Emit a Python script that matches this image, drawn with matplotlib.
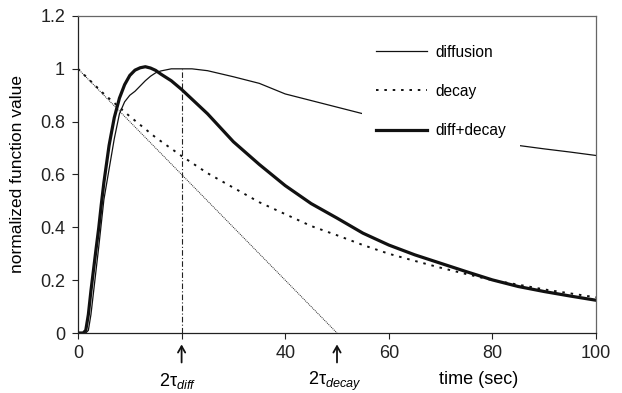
import numpy as np
import matplotlib.pyplot as plt

plt.rcParams['font.family'] = ['Liberation Sans', 'DejaVu Sans']
plt.rcParams['font.size'] = 13
plt.rcParams['mathtext.fontset'] = 'custom'
plt.rcParams['mathtext.rm'] = 'Liberation Sans'
plt.rcParams['mathtext.it'] = 'Liberation Sans:italic'

# diffusion only (thin solid)
t_diff = [0, 1.5, 2, 2.5, 3, 3.5, 4, 4.5, 5, 6, 7, 8, 9, 10, 11, 12, 13, 14, 15, 16,
          17, 18, 20, 22, 25, 30, 35, 40, 45, 50, 55, 60, 70, 80, 85, 90, 95, 100]
diffusion = [0, 0, 0.01, 0.07, 0.155, 0.24, 0.325, 0.415, 0.505, 0.62, 0.735, 0.83,
             0.875, 0.90, 0.915, 0.935, 0.955, 0.972, 0.985, 0.992, 0.996, 1.0, 1.0,
             1.0, 0.993, 0.97, 0.945, 0.905, 0.88, 0.855, 0.83, 0.81, 0.77, 0.73,
             0.71, 0.697, 0.685, 0.672]

# decay only (dotted)
t_decay = [0, 5, 10, 15, 20, 25, 30, 35, 40, 45, 50, 55, 60, 65, 70, 75, 80, 85, 90, 95, 100]
decay = [1.0, 0.905, 0.82, 0.74, 0.67, 0.605, 0.55, 0.495, 0.45, 0.405, 0.37, 0.333,
         0.30, 0.273, 0.247, 0.223, 0.20, 0.183, 0.165, 0.15, 0.135]

# diffusion + decay (thick)
t_mix = [0, 1, 1.5, 2, 2.5, 3, 3.5, 4, 4.5, 5, 6, 7, 8, 9, 10, 11, 12, 13, 14, 15, 16,
         18, 20, 25, 30, 35, 40, 45, 50, 55, 60, 65, 70, 75, 80, 85, 90, 95, 100]
mix = [0, 0, 0.01, 0.07, 0.16, 0.24, 0.32, 0.397, 0.487, 0.57, 0.71, 0.815, 0.889,
       0.94, 0.975, 0.995, 1.004, 1.008, 1.003, 0.994, 0.98, 0.955, 0.922, 0.83,
       0.724, 0.638, 0.558, 0.49, 0.435, 0.378, 0.333, 0.296, 0.264, 0.232, 0.201,
       0.176, 0.157, 0.14, 0.124]

# tangent of decay and marker at 2*tau_diff
t_tan = [0, 50]
tangent = [1, 0]
t_mark = [20, 20]
mark = [0, 1]

xticks = [0, 20, 40, 60, 80, 100]
xticklabels = ['0', '', '40', '60', '80', '100']
yticks = [0, 0.2, 0.4, 0.6, 0.8, 1, 1.2]
yticklabels = ['0', '0.2', '0.4', '0.6', '0.8', '1', '1.2']

fig = plt.figure(figsize=(6.22, 3.93), dpi=100)
ax = fig.add_axes([78/622, 1-333/393, 518/622, 317/393])

ax.plot(t_tan, tangent, color='#222222', lw=0.7, ls=(0, (1, 1)))
ax.plot(t_mark, mark, color='#222222', lw=0.8, ls=(0, (5, 2, 1, 2)))
l1, = ax.plot(t_diff, diffusion, color='#111111', lw=0.9, label='diffusion')
l2, = ax.plot(t_decay, decay, color='#111111', lw=1.4, ls=(0, (1.3, 3.0)), label='decay')
l3, = ax.plot(t_mix, mix, color='#111111', lw=2.3, label='diff+decay')

ax.set_xlim(0, 100)
ax.set_ylim(0, 1.2)
ax.set_xticks(xticks)
ax.set_xticklabels(xticklabels)
ax.set_yticks(yticks)
ax.set_yticklabels(yticklabels)
ax.tick_params(direction='out', length=4.3, width=0.8, colors='#222222', labelsize=13)
ax.tick_params(axis='x', pad=4)
ax.tick_params(axis='y', pad=5)

for s in ['left', 'bottom']:
    ax.spines[s].set_color('#222222')
    ax.spines[s].set_linewidth(0.9)
for s in ['top', 'right']:
    ax.spines[s].set_color('#666666')
    ax.spines[s].set_linewidth(0.9)

ax.set_ylabel('normalized function value', fontsize=12.5)
ax.yaxis.set_label_coords(-0.102, 0.5)

tr = ax.get_xaxis_transform()
for xv in [20, 50]:
    ax.annotate('', xy=(xv, -0.036), xytext=(xv, -0.093), xycoords=tr, textcoords=tr,
                arrowprops=dict(arrowstyle='->,head_length=0.35,head_width=0.2',
                                lw=1.3, color='#111111', shrinkA=0, shrinkB=0),
                annotation_clip=False)
ax.text(19.3, -0.152, r'2$\mathrm{\tau}_{\mathit{diff}}$', transform=tr, ha='center', va='center', fontsize=13)
ax.text(49.5, -0.152, r'2$\mathrm{\tau}_{\mathit{decay}}$', transform=tr, ha='center', va='center', fontsize=13)
ax.text(77.4, -0.148, 'time (sec)', transform=tr, ha='center', va='center', fontsize=13)

leg = ax.legend(handles=[l1, l2, l3], loc='upper left',
                bbox_to_anchor=(354/622, 1-23/393), bbox_transform=fig.transFigure,
                frameon=True, facecolor='white', edgecolor='none', framealpha=1,
                fancybox=False, borderpad=0.9, handlelength=3.3, handletextpad=0.55,
                labelspacing=1.55, fontsize=11.2)

fig.savefig('out.png', dpi=100)
